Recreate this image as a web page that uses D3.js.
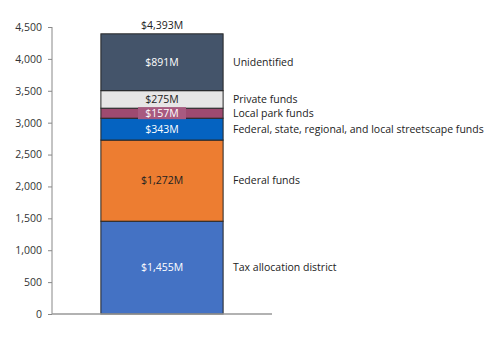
<!DOCTYPE html>
<html><head><meta charset="utf-8">
<script src="https://cdn.jsdelivr.net/npm/d3@7"></script>
<style>body{margin:0;background:#fff;} text{font-family:"Open Sans","Noto Sans",sans-serif;}</style>
</head><body><svg id="c" width="500" height="337"></svg>
<script>
const categories = ["Tax allocation district","Federal funds","Federal, state, regional, and local streetscape funds","Local park funds","Private funds","Unidentified"];
const values = [1455,1272,343,157,275,891];
const valueLabels = ["$1,455M","$1,272M","$343M","$157M","$275M","$891M"];
const totalLabel = "$4,393M";
const colors = ["#4472C4","#ED7D31","#0563C1","#9E4A70","#E7E6E6","#44546A"];
const labelColors = ["#fff","#222","#fff","#fff","#222","#fff"];
const yTicks = [0,500,1000,1500,2000,2500,3000,3500,4000,4500];

const svg = d3.select("#c");
const y = d3.scaleLinear().domain([0,4500]).range([314,27]);
const x = d3.scaleBand().domain(["A"]).range([52,272]).paddingInner(0).paddingOuter(0.4);
const fs = "10.5px";

let cum = 0;
const segs = values.map((v,i)=>{const s={i,v,y0:cum,y1:cum+v};cum+=v;return s;});

const yAxis = d3.axisLeft(y).tickValues(yTicks).tickSize(4).tickPadding(6).tickFormat(d3.format(","));
const ga = svg.append("g").attr("transform","translate(52,0)").call(yAxis);
ga.select(".domain").attr("stroke","#888").attr("d","M0,"+y(4500)+"V"+y(0));
ga.selectAll(".tick line").attr("stroke","#888");
ga.selectAll(".tick text").attr("font-size",fs).attr("fill","#333");

svg.selectAll("rect.seg").data(segs).enter().append("rect")
  .attr("x",x("A")).attr("width",x.bandwidth())
  .attr("y",d=>y(d.y1)).attr("height",d=>y(d.y0)-y(d.y1))
  .attr("fill",d=>colors[d.i]).attr("stroke","#262626").attr("stroke-width",1);

svg.append("line").attr("x1",52).attr("x2",272).attr("y1",y(0)).attr("y2",y(0)).attr("stroke","#999").attr("stroke-width",1.5);

const cx = x("A")+x.bandwidth()/2;
const lp = segs[3];
svg.append("rect").attr("x",cx-24).attr("width",48).attr("y",y(lp.y1)-1).attr("height",y(lp.y0)-y(lp.y1)+2).attr("fill","#A85A80");

svg.selectAll("text.val").data(segs).enter().append("text")
  .attr("x",cx).attr("y",d=>y((d.y0+d.y1)/2)).attr("dy","0.35em")
  .attr("text-anchor","middle").attr("font-size",fs)
  .attr("fill",d=>labelColors[d.i]).text(d=>valueLabels[d.i]);

svg.append("text").attr("x",cx).attr("y",y(cum)-5).attr("text-anchor","middle").attr("font-size",fs).attr("fill","#222").text(totalLabel);

svg.selectAll("text.cat").data(segs).enter().append("text")
  .attr("x",233).attr("y",d=>y((d.y0+d.y1)/2)).attr("dy","0.35em")
  .attr("font-size",fs).attr("fill","#222").text(d=>categories[d.i]);
</script></body></html>
